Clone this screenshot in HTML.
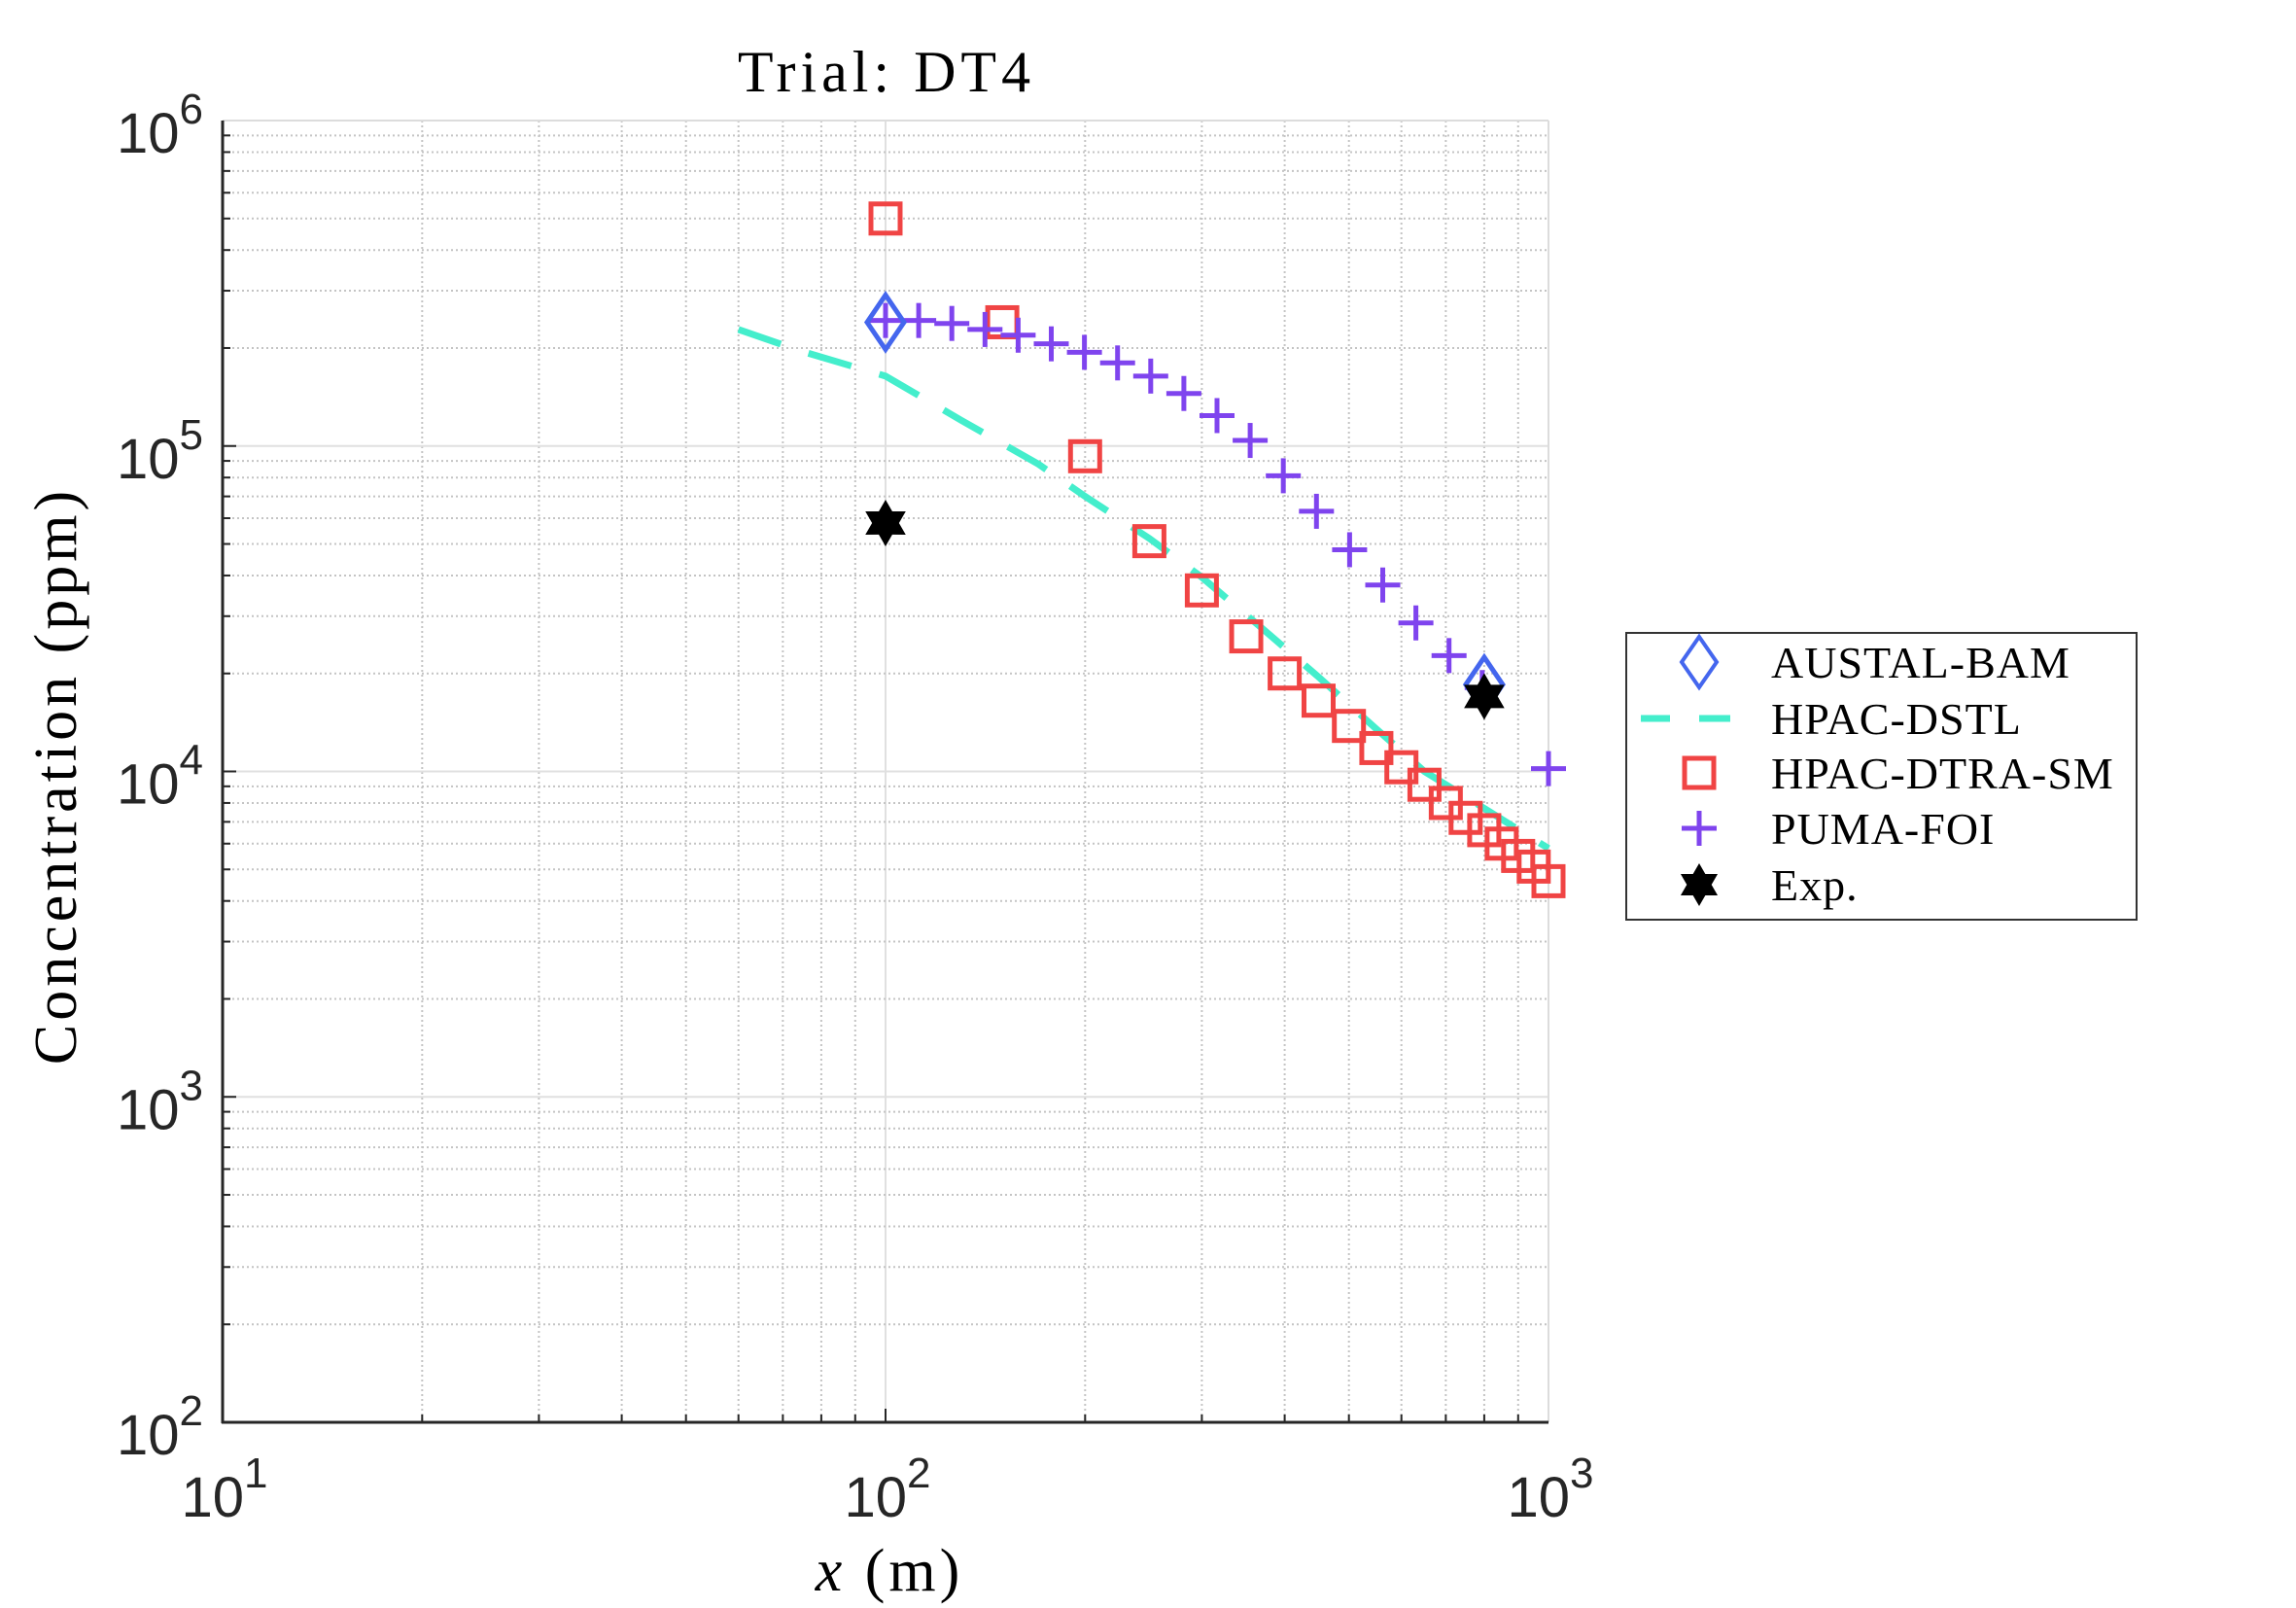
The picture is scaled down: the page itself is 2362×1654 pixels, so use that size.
<!DOCTYPE html>
<html><head><meta charset="utf-8">
<style>
html,body{margin:0;padding:0;background:#fff;}
svg{display:block;}
.tk{font-family:"Liberation Sans",sans-serif;fill:#262626;}
.sf{font-family:"Liberation Serif",serif;fill:#000;}
</style></head>
<body>
<svg id="s" width="2362" height="1654" viewBox="0 0 2362 1654" xmlns="http://www.w3.org/2000/svg">
<rect width="2362" height="1654" fill="#fff"/>
<g id="grid"></g>
<g id="axes"></g>
<g id="data"></g>
<text class="sf" x="912" y="94" font-size="60" letter-spacing="5" text-anchor="middle">Trial: DT4</text>
<text class="sf" x="915" y="1636" font-size="62" letter-spacing="4" text-anchor="middle"><tspan font-style="italic">x</tspan> (m)</text>
<text class="sf" transform="translate(78,798) rotate(-90)" font-size="62" letter-spacing="4" text-anchor="middle">Concentration (ppm)</text>
<g id="legend" transform="translate(-9,0)">
<rect x="1682" y="651" width="525" height="295" fill="#fff" stroke="#333" stroke-width="2"/>
<polygon points="1757,655 1775,681 1757,707 1739,681" fill="none" stroke="#4466ee" stroke-width="4"/>
<line x1="1697" y1="739" x2="1727" y2="739" stroke="#44eecc" stroke-width="7"/>
<line x1="1757" y1="739" x2="1789" y2="739" stroke="#44eecc" stroke-width="7"/>
<rect x="1742" y="780" width="30" height="30" fill="none" stroke="#f04444" stroke-width="5"/>
<line x1="1739" y1="852" x2="1775" y2="852" stroke="#7f44ee" stroke-width="5"/>
<line x1="1757" y1="834" x2="1757" y2="870" stroke="#7f44ee" stroke-width="5"/>
<polygon id="lstar" fill="#000"/>
<text class="sf" x="1831" y="697" font-size="46" letter-spacing="1">AUSTAL-BAM</text>
<text class="sf" x="1831" y="755" font-size="46" letter-spacing="1">HPAC-DSTL</text>
<text class="sf" x="1831" y="811" font-size="46" letter-spacing="1">HPAC-DTRA-SM</text>
<text class="sf" x="1831" y="868" font-size="46" letter-spacing="1">PUMA-FOI</text>
<text class="sf" x="1831" y="926" font-size="46" letter-spacing="1">Exp.</text>
</g>
</svg>
<script>
var NS="http://www.w3.org/2000/svg";
var L=229,R=1593,T=124,B=1463;
function X(v){return L+682*Math.log10(v/10);}
function Y(c){return B-334.75*Math.log10(c/100);}
function el(g,tag,a){var e=document.createElementNS(NS,tag);for(var k in a)e.setAttribute(k,a[k]);document.getElementById(g).appendChild(e);return e;}
for(var d=1;d<=2;d++)for(var m=1;m<=9;m++){var v=Math.pow(10,d)*m;var x=X(v);if(x>R+1)continue;
 if(m==1){el('grid','line',{x1:x,y1:T,x2:x,y2:B,stroke:'#e0e0e0','stroke-width':2});}
 else el('grid','line',{x1:x,y1:T,x2:x,y2:B,stroke:'#c4c4c4','stroke-width':2,'stroke-dasharray':'2,3'});
 el('axes','line',{x1:x,y1:B,x2:x,y2:B-(m==1?14:8),stroke:'#262626','stroke-width':2});}
el('axes','line',{x1:R,y1:B,x2:R,y2:B-14,stroke:'#262626','stroke-width':2});
for(var d=2;d<=6;d++)for(var m=1;m<=9;m++){var c=Math.pow(10,d)*m;if(c>1e6)continue;var y=Y(c);
 if(m==1){if(d>2&&d<6)el('grid','line',{x1:L,y1:y,x2:R,y2:y,stroke:'#e0e0e0','stroke-width':2});}
 else el('grid','line',{x1:L,y1:y,x2:R,y2:y,stroke:'#c4c4c4','stroke-width':2,'stroke-dasharray':'2,3'});
 el('axes','line',{x1:L,y1:y,x2:L+(m==1?14:8),y2:y,stroke:'#262626','stroke-width':2});}
el('axes','line',{x1:L,y1:T,x2:R,y2:T,stroke:'#dcdcdc','stroke-width':2});
el('axes','line',{x1:R,y1:T,x2:R,y2:B,stroke:'#dcdcdc','stroke-width':2});
el('axes','line',{x1:L,y1:T,x2:L,y2:B+1,stroke:'#262626','stroke-width':3});
el('axes','line',{x1:L-1,y1:B,x2:R,y2:B,stroke:'#262626','stroke-width':3});
function lab(x,y,e,anchor){var t=el('axes','text',{x:x,y:y,'class':'tk','font-size':58,'text-anchor':anchor});
 t.textContent='10';var s=document.createElementNS(NS,'tspan');s.setAttribute('dy','-30');s.setAttribute('font-size','44');s.textContent=e;t.appendChild(s);}
for(var d=2;d<=6;d++)lab(209,Y(Math.pow(10,d))+33,d,'end');
for(var d=1;d<=3;d++)lab(X(Math.pow(10,d))+2,1560,d,'middle');
var dl=[[60,2.28e5],[75,1.95e5],[100,1.64e5],[130,1.2e5],[170,8.8e4],[200,7.0e4],[250,5.2e4],[300,3.95e4],[370,2.75e4],[450,1.95e4],[550,1.35e4],[650,1.0e4],[800,7.7e3],[1000,5.8e3]];
el('data','polyline',{points:dl.map(function(p){return X(p[0])+','+Y(p[1]);}).join(' '),fill:'none',stroke:'#44eecc','stroke-width':7,'stroke-dasharray':'46,30'});
var sq=[[100,5e5],[150,2.4e5],[200,9.3e4],[250,5.1e4],[300,3.6e4],[350,2.6e4],[400,2.0e4],[450,1.65e4],[500,1.38e4],[550,1.18e4],[600,1.03e4],[650,9.1e3],[700,8e3],[750,7.2e3],[800,6.6e3],[850,6e3],[900,5.5e3],[950,5.1e3],[1000,4.6e3]];
sq.forEach(function(p){el('data','rect',{x:X(p[0])-15,y:Y(p[1])-15,width:30,height:30,fill:'none',stroke:'#f04444','stroke-width':5});});
var pc=[2.43e5,2.43e5,2.38e5,2.28e5,2.19e5,2.06e5,1.94e5,1.80e5,1.64e5,1.45e5,1.24e5,1.04e5,8.1e4,6.3e4,4.8e4,3.74e4,2.86e4,2.27e4,1.81e4];
var pl=pc.map(function(c,i){return [100*Math.pow(10,0.05*i),c];});pl.push([1000,1.02e4]);
pl.forEach(function(p){var x=X(p[0]),y=Y(p[1]);
 el('data','line',{x1:x-18,y1:y,x2:x+18,y2:y,stroke:'#7f44ee','stroke-width':5});
 el('data','line',{x1:x,y1:y-18,x2:x,y2:y+18,stroke:'#7f44ee','stroke-width':5});});
[[100,2.4e5],[800,1.85e4]].forEach(function(p){var x=X(p[0]),y=Y(p[1]);
 el('data','polygon',{points:x+','+(y-28)+' '+(x+19)+','+y+' '+x+','+(y+28)+' '+(x-19)+','+y,fill:'none',stroke:'#4466ee','stroke-width':5});});
function hex(x,y,r){var a=[];for(var i=0;i<12;i++){var ang=-Math.PI/2+i*Math.PI/6;var rr=(i%2==0)?r:r*0.577;a.push((x+rr*Math.cos(ang))+','+(y+rr*Math.sin(ang)));}return a.join(' ');}
[[100,5.8e4],[800,1.7e4]].forEach(function(p){el('data','polygon',{points:hex(X(p[0]),Y(p[1]),24),fill:'#000'});});
document.getElementById('lstar').setAttribute('points',hex(1757,910,22));
</script>
</body></html>
